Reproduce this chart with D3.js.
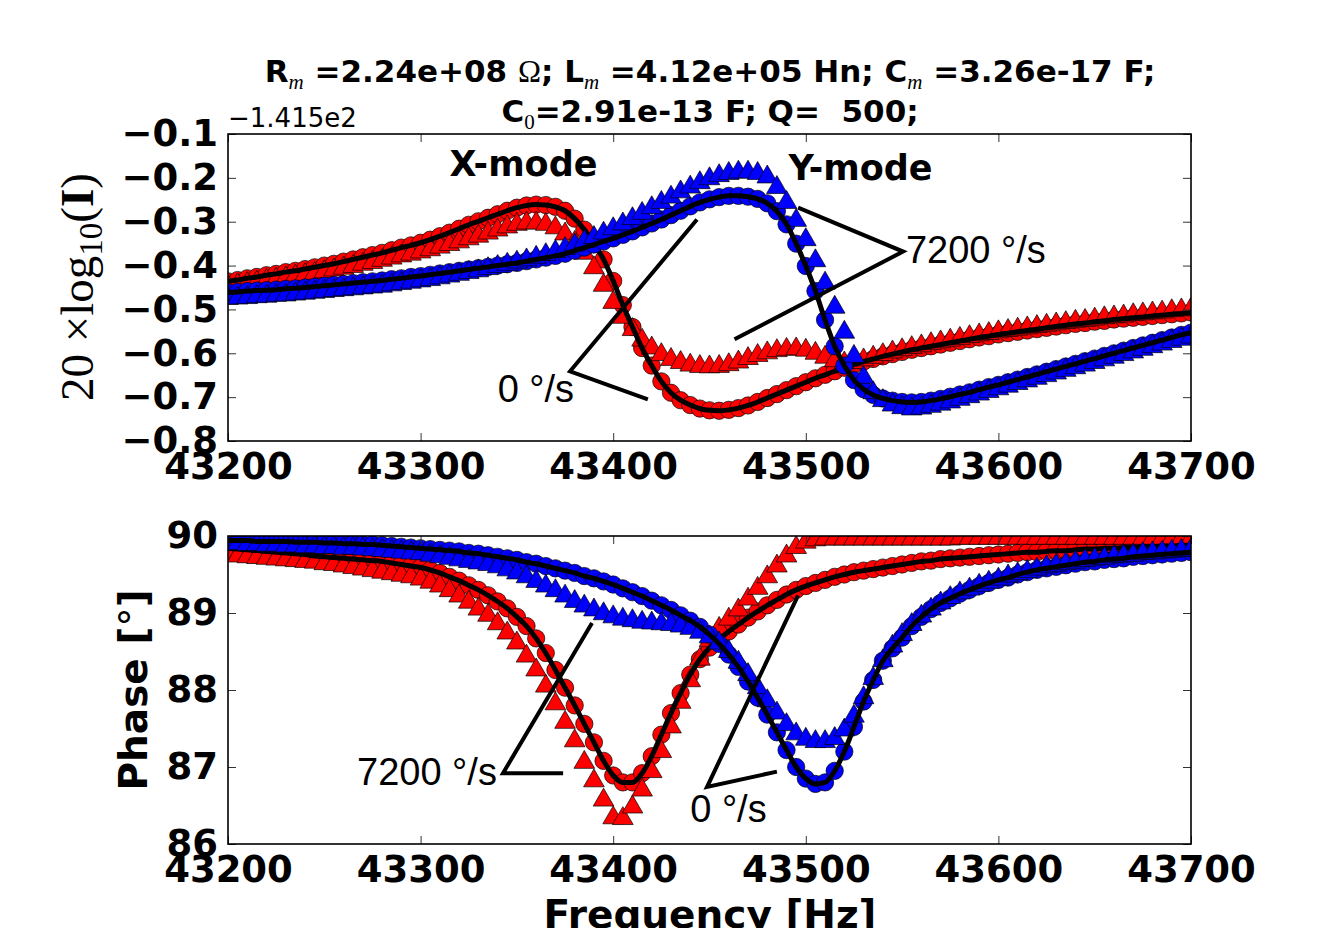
<!DOCTYPE html>
<html>
<head>
<meta charset="utf-8">
<script src="https://cdn.jsdelivr.net/npm/d3@7"></script>
<style>
body { margin: 0; background: #fff; }
svg text { white-space: pre; }
</style>
</head>
<body>
<svg id="chart" width="1325" height="928"></svg>
<script>
// frequency grid of the sweep, Hz
const freqs = d3.range(43200, 43701, 5);
const xTicks = [43200, 43300, 43400, 43500, 43600, 43700];

// 20*log10(I) relative to the offset -141.5
const magOffsetLabel = "\u22121.415e2";
const magTicks = [-0.8, -0.7, -0.6, -0.5, -0.4, -0.3, -0.2, -0.1];

const magXStill = [
  -0.436,-0.433,-0.429,-0.426,-0.422,-0.419,-0.415,-0.412,-0.408,-0.404,
  -0.400,-0.396,-0.391,-0.386,-0.381,-0.376,-0.371,-0.365,-0.359,-0.354,
  -0.348,-0.341,-0.333,-0.325,-0.316,-0.307,-0.299,-0.291,-0.283,-0.275,
  -0.268,-0.263,-0.261,-0.262,-0.266,-0.275,-0.293,-0.318,-0.350,-0.386,
  -0.435,-0.490,-0.540,-0.588,-0.628,-0.664,-0.690,-0.707,-0.718,-0.726,
  -0.730,-0.731,-0.729,-0.725,-0.719,-0.711,-0.702,-0.693,-0.684,-0.675,
  -0.666,-0.657,-0.649,-0.641,-0.633,-0.626,-0.619,-0.613,-0.607,-0.602,
  -0.597,-0.592,-0.588,-0.584,-0.580,-0.576,-0.572,-0.568,-0.564,-0.561,
  -0.557,-0.554,-0.551,-0.548,-0.545,-0.542,-0.539,-0.536,-0.533,-0.531,
  -0.528,-0.526,-0.523,-0.521,-0.519,-0.517,-0.515,-0.513,-0.511,-0.509,
  -0.507
];
const magXRot = [
  -0.447,-0.444,-0.441,-0.438,-0.434,-0.431,-0.428,-0.424,-0.421,-0.418,
  -0.414,-0.410,-0.406,-0.402,-0.397,-0.393,-0.388,-0.383,-0.378,-0.374,
  -0.369,-0.364,-0.358,-0.352,-0.346,-0.339,-0.333,-0.326,-0.319,-0.312,
  -0.306,-0.303,-0.303,-0.306,-0.314,-0.328,-0.347,-0.372,-0.405,-0.445,
  -0.484,-0.518,-0.546,-0.570,-0.588,-0.603,-0.614,-0.621,-0.627,-0.630,
  -0.631,-0.630,-0.626,-0.620,-0.612,-0.605,-0.599,-0.594,-0.591,-0.590,
  -0.593,-0.600,-0.609,-0.617,-0.622,-0.621,-0.615,-0.609,-0.603,-0.597,
  -0.592,-0.587,-0.583,-0.578,-0.574,-0.570,-0.566,-0.562,-0.558,-0.555,
  -0.551,-0.548,-0.545,-0.542,-0.539,-0.536,-0.533,-0.530,-0.527,-0.525,
  -0.522,-0.519,-0.517,-0.515,-0.512,-0.510,-0.508,-0.506,-0.503,-0.501,
  -0.499
];
const magYStill = [
  -0.461,-0.460,-0.458,-0.457,-0.456,-0.455,-0.453,-0.452,-0.450,-0.448,
  -0.446,-0.444,-0.442,-0.440,-0.438,-0.436,-0.434,-0.431,-0.429,-0.426,
  -0.424,-0.421,-0.418,-0.415,-0.412,-0.409,-0.406,-0.403,-0.400,-0.397,
  -0.394,-0.390,-0.386,-0.382,-0.378,-0.373,-0.366,-0.359,-0.352,-0.345,
  -0.338,-0.330,-0.322,-0.313,-0.304,-0.295,-0.285,-0.275,-0.265,-0.256,
  -0.249,-0.244,-0.241,-0.241,-0.243,-0.248,-0.258,-0.276,-0.306,-0.350,
  -0.401,-0.458,-0.524,-0.584,-0.628,-0.661,-0.682,-0.695,-0.703,-0.708,
  -0.711,-0.712,-0.711,-0.708,-0.704,-0.699,-0.694,-0.689,-0.683,-0.677,
  -0.672,-0.666,-0.660,-0.654,-0.648,-0.642,-0.636,-0.630,-0.624,-0.618,
  -0.612,-0.606,-0.600,-0.594,-0.588,-0.582,-0.576,-0.570,-0.564,-0.558,
  -0.553
];
const magYRot = [
  -0.475,-0.474,-0.473,-0.471,-0.470,-0.468,-0.467,-0.465,-0.463,-0.461,
  -0.459,-0.457,-0.455,-0.453,-0.451,-0.449,-0.447,-0.444,-0.441,-0.438,
  -0.435,-0.432,-0.428,-0.424,-0.420,-0.416,-0.412,-0.407,-0.402,-0.397,
  -0.392,-0.387,-0.381,-0.375,-0.368,-0.361,-0.353,-0.345,-0.336,-0.326,
  -0.316,-0.305,-0.293,-0.281,-0.268,-0.256,-0.244,-0.232,-0.221,-0.211,
  -0.202,-0.195,-0.190,-0.187,-0.187,-0.190,-0.198,-0.222,-0.256,-0.297,
  -0.341,-0.389,-0.440,-0.495,-0.552,-0.607,-0.655,-0.690,-0.708,-0.718,
  -0.724,-0.727,-0.725,-0.721,-0.716,-0.711,-0.705,-0.699,-0.693,-0.687,
  -0.681,-0.675,-0.669,-0.663,-0.657,-0.651,-0.645,-0.639,-0.633,-0.627,
  -0.621,-0.615,-0.609,-0.603,-0.597,-0.591,-0.585,-0.579,-0.573,-0.568,
  -0.563
];

// phase, degrees
const phaseTicks = [86, 87, 88, 89, 90];

const phXStill = [
  89.84,89.83,89.82,89.81,89.80,89.79,89.78,89.77,89.76,89.74,
  89.73,89.72,89.71,89.70,89.69,89.68,89.67,89.65,89.63,89.61,
  89.59,89.56,89.52,89.47,89.42,89.36,89.30,89.23,89.15,89.06,
  88.95,88.83,88.67,88.48,88.26,88.03,87.80,87.56,87.32,87.08,
  86.89,86.80,86.80,86.92,87.14,87.42,87.70,87.96,88.20,88.40,
  88.55,88.66,88.76,88.85,88.94,89.02,89.10,89.17,89.24,89.30,
  89.35,89.39,89.43,89.47,89.50,89.53,89.55,89.57,89.59,89.61,
  89.63,89.65,89.67,89.68,89.70,89.71,89.72,89.73,89.74,89.75,
  89.76,89.77,89.78,89.79,89.79,89.80,89.81,89.81,89.82,89.83,
  89.83,89.84,89.84,89.85,89.85,89.86,89.86,89.87,89.87,89.88,
  89.88
];
const phXRot = [
  89.75,89.74,89.73,89.72,89.71,89.70,89.69,89.68,89.67,89.66,
  89.64,89.63,89.61,89.59,89.57,89.55,89.53,89.51,89.49,89.47,
  89.44,89.40,89.35,89.29,89.22,89.14,89.05,88.97,88.86,88.74,
  88.61,88.44,88.26,88.05,87.82,87.58,87.34,87.06,86.82,86.57,
  86.34,86.33,86.48,86.70,86.94,87.20,87.52,87.84,88.12,88.40,
  88.64,88.80,88.92,89.04,89.18,89.32,89.47,89.61,89.74,89.85,
  89.92,89.95,89.96,89.96,89.96,89.96,89.96,89.96,89.96,89.96,
  89.96,89.96,89.96,89.96,89.96,89.96,89.97,89.97,89.97,89.97,
  89.97,89.97,89.97,89.97,89.97,89.97,89.97,89.97,89.97,89.97,
  89.97,89.97,89.97,89.97,89.97,89.97,89.97,89.97,89.97,89.97,
  89.97
];
const phYStill = [
  89.94,89.94,89.94,89.93,89.93,89.93,89.93,89.92,89.92,89.92,
  89.91,89.91,89.90,89.90,89.89,89.89,89.88,89.87,89.86,89.85,
  89.84,89.83,89.82,89.81,89.80,89.78,89.77,89.75,89.73,89.71,
  89.69,89.66,89.64,89.61,89.58,89.55,89.52,89.48,89.45,89.41,
  89.37,89.32,89.27,89.22,89.16,89.10,89.04,88.97,88.90,88.82,
  88.72,88.60,88.46,88.30,88.11,87.90,87.68,87.45,87.22,87.00,
  86.85,86.78,86.80,86.95,87.20,87.52,87.85,88.13,88.38,88.54,
  88.68,88.83,88.95,89.05,89.13,89.19,89.25,89.30,89.35,89.39,
  89.43,89.46,89.50,89.53,89.56,89.58,89.60,89.62,89.64,89.66,
  89.67,89.69,89.70,89.71,89.73,89.74,89.75,89.76,89.77,89.78,
  89.79
];
const phYRot = [
  89.90,89.90,89.89,89.89,89.88,89.88,89.87,89.87,89.86,89.86,
  89.85,89.85,89.84,89.84,89.83,89.82,89.81,89.80,89.79,89.78,
  89.77,89.75,89.73,89.71,89.69,89.67,89.65,89.63,89.60,89.56,
  89.52,89.47,89.41,89.35,89.29,89.22,89.15,89.09,89.04,88.99,
  88.95,88.92,88.90,88.88,88.87,88.86,88.85,88.83,88.80,88.75,
  88.69,88.61,88.50,88.36,88.20,88.03,87.86,87.70,87.55,87.43,
  87.36,87.33,87.33,87.37,87.48,87.66,87.90,88.15,88.38,88.57,
  88.72,88.85,88.96,89.05,89.13,89.20,89.26,89.31,89.36,89.40,
  89.44,89.48,89.51,89.54,89.57,89.60,89.62,89.64,89.66,89.68,
  89.70,89.71,89.73,89.74,89.75,89.77,89.78,89.79,89.80,89.81,
  89.82
];

// callouts, in data units: text anchor and the two leader lines from the label corner
const magLabels = [
  { text: "X-mode", at: [43315, -0.195], kind: "mode" },
  { text: "Y-mode", at: [43491, -0.204], kind: "mode" },
  { text: "7200 \u00b0/s", at: [43552, -0.393], kind: "rate" },
  { text: "0 \u00b0/s", at: [43340, -0.711], kind: "rate" }
];
const magLeaders = [
  [[43496, -0.268], [43550.5, -0.368], [43463, -0.568]],
  [[43443.5, -0.295], [43377.6, -0.641], [43418, -0.705]]
];
const phLabels = [
  { text: "7200 \u00b0/s", at: [43267, 86.77], kind: "rate" },
  { text: "0 \u00b0/s", at: [43440, 86.29], kind: "rate" }
];
const phLeaders = [
  [[43389, 88.87], [43342.8, 86.92], [43374, 86.92]],
  [[43496, 89.23], [43448.7, 86.74], [43485, 86.94]]
];

const RED = "#ff0000", BLUE = "#0000ff";
const SANS = "'DejaVu Sans', sans-serif";
const SERIF = "'Liberation Serif', 'DejaVu Serif', serif";
const HELV = "'Liberation Sans', Arial, sans-serif";

const svg = d3.select("#chart");

const x = d3.scaleLinear().domain([43200, 43700]).range([228, 1191]);
const yMag = d3.scaleLinear().domain([-0.8, -0.1]).range([441, 134]);
const yPh = d3.scaleLinear().domain([86, 90]).range([844, 536]);

const circle = d3.symbol().type(d3.symbolCircle).size(235);
const triangle = d3.symbol().type(d3.symbolTriangle).size(185);

function drawPanel(id, y, yTicks, yFmt, series, labels, leaders) {
  const g = svg.append("g");
  const [yb, yt] = y.range();
  const [xl, xr] = x.range();

  g.append("clipPath").attr("id", id)
    .append("rect").attr("x", xl).attr("y", yt).attr("width", xr - xl).attr("height", yb - yt);

  const plot = g.append("g").attr("clip-path", `url(#${id})`);

  series.forEach(s => {
    const pts = freqs.map((f, i) => [f, s.values[i]]);
    if (s.marker) {
      plot.append("g").selectAll("path")
        .data(pts)
        .enter().append("path")
        .attr("transform", d => `translate(${x(d[0])},${y(d[1])})`)
        .attr("d", s.marker === "circle" ? circle : triangle)
        .attr("fill", s.color)
        .attr("stroke", "#000")
        .attr("stroke-width", 0.7);
    } else {
      plot.append("path")
        .datum(pts)
        .attr("fill", "none")
        .attr("stroke", "#000")
        .attr("stroke-width", 5)
        .attr("stroke-linejoin", "round")
        .attr("d", d3.line().x(d => x(d[0])).y(d => y(d[1])).curve(d3.curveMonotoneX));
    }
  });

  // axes: inward ticks on all four sides, labels on bottom and left
  g.append("g").attr("transform", `translate(0,${yb})`)
    .call(d3.axisBottom(x).tickValues(xTicks).tickSizeInner(-8).tickSizeOuter(0).tickPadding(12).tickFormat(d3.format("d")));
  g.append("g").attr("transform", `translate(0,${yt})`)
    .call(d3.axisTop(x).tickValues(xTicks).tickSizeInner(-8).tickSizeOuter(0).tickFormat(""));
  g.append("g").attr("transform", `translate(${xl},0)`)
    .call(d3.axisLeft(y).tickValues(yTicks).tickSizeInner(-8).tickSizeOuter(0).tickPadding(10).tickFormat(yFmt));
  g.append("g").attr("transform", `translate(${xr},0)`)
    .call(d3.axisRight(y).tickValues(yTicks).tickSizeInner(-8).tickSizeOuter(0).tickFormat(""));
  g.selectAll(".domain").remove();
  g.selectAll(".tick line").attr("stroke", "#333").attr("stroke-width", 1);
  g.selectAll(".tick text")
    .attr("font-family", SANS).attr("font-weight", "bold").attr("font-size", 37).attr("fill", "#000");

  g.append("rect")
    .attr("x", xl).attr("y", yt).attr("width", xr - xl).attr("height", yb - yt)
    .attr("fill", "none").attr("stroke", "#000").attr("stroke-width", 1.6);

  leaders.forEach(pts => {
    g.append("path")
      .datum(pts)
      .attr("fill", "none").attr("stroke", "#000").attr("stroke-width", 4)
      .attr("d", d3.line().x(d => x(d[0])).y(d => y(d[1])));
  });

  labels.forEach(l => {
    const t = g.append("text")
      .attr("x", x(l.at[0])).attr("y", y(l.at[1]))
      .attr("fill", "#000")
      .text(l.text);
    if (l.kind === "mode") t.attr("font-family", SANS).attr("font-weight", "bold").attr("font-size", 35);
    else t.attr("font-family", HELV).attr("font-size", 38);
  });
  return g;
}

drawPanel("clipMag", yMag, magTicks, d3.format(".1f"), [
  { values: magXStill, color: RED, marker: "circle" },
  { values: magXRot, color: RED, marker: "triangle" },
  { values: magXStill },
  { values: magYStill, color: BLUE, marker: "circle" },
  { values: magYRot, color: BLUE, marker: "triangle" },
  { values: magYStill }
], magLabels, magLeaders);

drawPanel("clipPh", yPh, phaseTicks, d3.format("d"), [
  { values: phXStill, color: RED, marker: "circle" },
  { values: phXRot, color: RED, marker: "triangle" },
  { values: phXStill },
  { values: phYStill, color: BLUE, marker: "circle" },
  { values: phYRot, color: BLUE, marker: "triangle" },
  { values: phYStill }
], phLabels, phLeaders);

// offset text of the magnitude axis
svg.append("text")
  .attr("x", 228).attr("y", 127)
  .attr("font-family", SANS).attr("font-size", 26)
  .text(magOffsetLabel);

// title, two lines with math subscripts
function sub(t, s, italic) {
  t.append("tspan").attr("dy", 7).attr("font-family", SERIF).attr("font-weight", "normal")
    .attr("font-style", italic ? "italic" : "normal").attr("font-size", 21).text(s);
}
function plain(t, s, dy) {
  t.append("tspan").attr("dy", dy || 0).text(s);
}
const title1 = svg.append("text")
  .attr("x", 710).attr("y", 82).attr("text-anchor", "middle")
  .attr("font-family", SANS).attr("font-weight", "bold").attr("font-size", 31);
plain(title1, "R");
sub(title1, "m", true);
plain(title1, " =2.24e+08 ", -7);
title1.append("tspan").attr("font-family", SERIF).attr("font-weight", "normal").text("\u03a9");
plain(title1, "; L");
sub(title1, "m", true);
plain(title1, " =4.12e+05 Hn; C", -7);
sub(title1, "m", true);
plain(title1, " =3.26e-17 F;", -7);

const title2 = svg.append("text")
  .attr("x", 710).attr("y", 122).attr("text-anchor", "middle")
  .attr("font-family", SANS).attr("font-weight", "bold").attr("font-size", 31);
plain(title2, "C");
sub(title2, "0", false);
plain(title2, "=2.91e-13 F; Q=  500;", -7);

// y label, magnitude (math style)
const ylab1 = svg.append("text")
  .attr("transform", "translate(93,287) rotate(-90)")
  .attr("text-anchor", "middle")
  .attr("font-family", SERIF).attr("font-size", 47);
ylab1.append("tspan").text("20 \u00d7log");
ylab1.append("tspan").attr("dy", 9).attr("font-size", 33).text("10");
ylab1.append("tspan").attr("dy", -9).text("(");
ylab1.append("tspan").attr("font-weight", "bold").text("I");
ylab1.append("tspan").text(")");

// y label, phase
const ylab2 = svg.append("text")
  .attr("transform", "translate(147,690) rotate(-90)")
  .attr("text-anchor", "middle")
  .attr("font-family", SANS).attr("font-weight", "bold").attr("font-size", 39);
ylab2.append("tspan").text("Phase [");
ylab2.append("tspan").attr("font-weight", "normal").text("\u00b0");
ylab2.append("tspan").text("]");

// x label
svg.append("text")
  .attr("x", 710).attr("y", 928).attr("text-anchor", "middle")
  .attr("font-family", SANS).attr("font-weight", "bold").attr("font-size", 39)
  .text("Frequency [Hz]");
</script>
</body>
</html>
